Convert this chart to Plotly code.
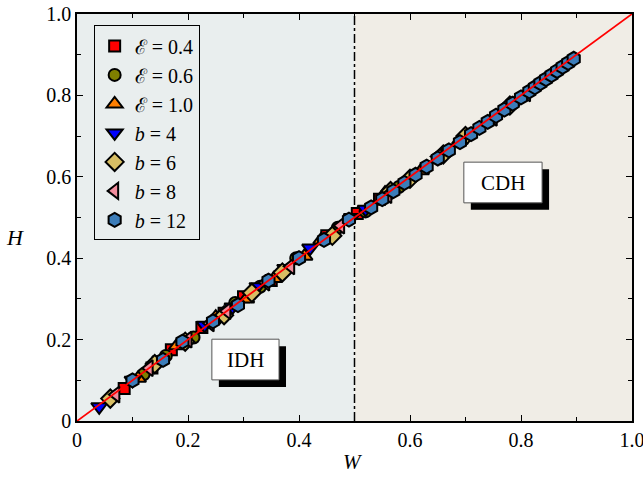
import plotly.graph_objects as go

# ---- data ----
e04_W = [0.085, 0.135, 0.170, 0.225, 0.265, 0.300, 0.350, 0.450, 0.505, 0.545]
e04_H = [0.080, 0.130, 0.175, 0.230, 0.265, 0.305, 0.345, 0.455, 0.510, 0.545]
e06_W = [0.120, 0.160, 0.210, 0.250, 0.285, 0.330, 0.395, 0.470, 0.520, 0.580]
e06_H = [0.115, 0.160, 0.205, 0.250, 0.290, 0.330, 0.400, 0.475, 0.515, 0.575]
e10_W = [0.110, 0.180, 0.250, 0.305, 0.355, 0.410, 0.440, 0.555, 0.620, 0.690]
e10_H = [0.105, 0.185, 0.255, 0.300, 0.350, 0.405, 0.445, 0.560, 0.615, 0.690]
b4_W = [0.040, 0.100, 0.150, 0.230, 0.280, 0.325, 0.375, 0.420, 0.495, 0.520]
b4_H = [0.035, 0.100, 0.150, 0.235, 0.280, 0.330, 0.375, 0.425, 0.500, 0.520]
b6_W = [0.060, 0.140, 0.195, 0.265, 0.315, 0.370, 0.460, 0.565, 0.600, 0.660, 0.700, 0.780]
b6_H = [0.055, 0.140, 0.195, 0.260, 0.315, 0.365, 0.455, 0.565, 0.595, 0.655, 0.700, 0.775]
b8_W = [0.070, 0.130, 0.200, 0.240, 0.270, 0.340, 0.385, 0.475, 0.560, 0.650, 0.750, 0.810]
b8_H = [0.065, 0.130, 0.200, 0.240, 0.270, 0.340, 0.380, 0.480, 0.555, 0.650, 0.745, 0.805]
b12_W = [0.100, 0.155, 0.190, 0.245, 0.290, 0.345, 0.400, 0.445, 0.490, 0.530,
         0.550, 0.570, 0.590, 0.610, 0.630, 0.650, 0.670, 0.690, 0.710, 0.725,
         0.740, 0.755, 0.770, 0.785, 0.800, 0.815, 0.825, 0.835, 0.845, 0.855,
         0.865, 0.875, 0.885, 0.895]
b12_H = [0.100, 0.150, 0.195, 0.245, 0.285, 0.345, 0.400, 0.445, 0.495, 0.525,
         0.545, 0.565, 0.585, 0.605, 0.625, 0.645, 0.665, 0.685, 0.705, 0.720,
         0.735, 0.750, 0.765, 0.780, 0.795, 0.810, 0.820, 0.830, 0.840, 0.850,
         0.860, 0.870, 0.880, 0.890]
tick_vals = [0, 0.2, 0.4, 0.6, 0.8, 1.0]
tick_text = ["0", "0.2", "0.4", "0.6", "0.8", "1.0"]

series = [
    ("\u2130 = 0.4", e04_W, e04_H, "square", "#FF0000", 11),
    ("\u2130 = 0.6", e06_W, e06_H, "circle", "#7F7F00", 12),
    ("\u2130 = 1.0", e10_W, e10_H, "triangle-up", "#FF7F00", 14),
    ("<i>b</i> = 4", b4_W, b4_H, "triangle-down", "#0000FF", 14),
    ("<i>b</i> = 6", b6_W, b6_H, "diamond", "#D7BE64", 14),
    ("<i>b</i> = 8", b8_W, b8_H, "triangle-left", "#F08C9C", 14),
    ("<i>b</i> = 12", b12_W, b12_H, "hexagon", "#3C7DB9", 14),
]

FONT = "Liberation Serif"
fig = go.Figure()

for name, w, h, sym, col, sz in series:
    fig.add_trace(go.Scatter(
        x=w, y=h, mode="markers", name=name,
        marker=dict(symbol=sym, color=col, size=sz,
                    line=dict(color="black", width=2)),
    ))

fig.add_trace(go.Scatter(x=[0, 1], y=[0, 1], mode="lines",
                         line=dict(color="#FF0000", width=1.8),
                         showlegend=False, hoverinfo="skip"))

shapes = [
    dict(type="rect", xref="x", yref="y", x0=0, x1=0.5, y0=0, y1=1,
         fillcolor="#E9EEEE", line=dict(width=0), layer="below"),
    dict(type="rect", xref="x", yref="y", x0=0.5, x1=1, y0=0, y1=1,
         fillcolor="#F0EDE6", line=dict(width=0), layer="below"),
    dict(type="line", xref="x", yref="y", x0=0.5, x1=0.5, y0=0, y1=1,
         line=dict(color="black", width=1.5, dash="dashdot"), layer="below"),
]

def box(x0, x1, y0, y1):
    dx, dy = 0.0126, 0.0172
    return [
        dict(type="rect", xref="x", yref="y", x0=x0 + dx, x1=x1 + dx,
             y0=y0 - dy, y1=y1 - dy, fillcolor="black", line=dict(width=0)),
        dict(type="rect", xref="x", yref="y", x0=x0, x1=x1, y0=y0, y1=y1,
             fillcolor="white", line=dict(color="#555555", width=1)),
    ]

shapes += box(0.243, 0.364, 0.101, 0.201)
shapes += box(0.697, 0.838, 0.536, 0.636)

fig.update_layout(
    width=643, height=477,
    margin=dict(l=77, r=11, t=14, b=56),
    paper_bgcolor="white", plot_bgcolor="white",
    font=dict(family=FONT, size=20, color="black"),
    shapes=shapes,
    annotations=[
        dict(x=0.3035, y=0.151, xref="x", yref="y", text="IDH", showarrow=False,
             font=dict(family=FONT, size=21)),
        dict(x=0.7675, y=0.586, xref="x", yref="y", text="CDH", showarrow=False,
             font=dict(family=FONT, size=21)),
        dict(x=0.497, y=-0.1, xref="paper", yref="paper", text="<i>W</i>",
             showarrow=False, yanchor="middle", font=dict(family=FONT, size=21)),
        dict(x=-0.112, y=0.45, xref="paper", yref="paper", text="<i>H</i>",
             showarrow=False, xanchor="center", font=dict(family=FONT, size=22)),
    ],
    legend=dict(x=0.03, y=0.972, xanchor="left", yanchor="top",
                bgcolor="#E9EEEE", bordercolor="black", borderwidth=1,
                font=dict(family=FONT, size=20), itemsizing="trace",
                tracegroupgap=0),
    showlegend=True,
)

axis_common = dict(
    range=[0, 1], showgrid=False, zeroline=False, showline=True,
    linecolor="black", linewidth=1.5, mirror="ticks", automargin=False,
    ticks="inside", ticklen=6, tickwidth=1.2, tickcolor="black",
    tickvals=tick_vals, ticktext=tick_text, ticklabeloverflow="allow",
    tickfont=dict(family=FONT, size=20),
    minor=dict(ticks="inside", ticklen=4, tickcolor="black",
               dtick=0.1, tick0=0, showgrid=False),
)
fig.update_xaxes(**axis_common)
fig.update_yaxes(**axis_common)

fig.write_html("out.html")
